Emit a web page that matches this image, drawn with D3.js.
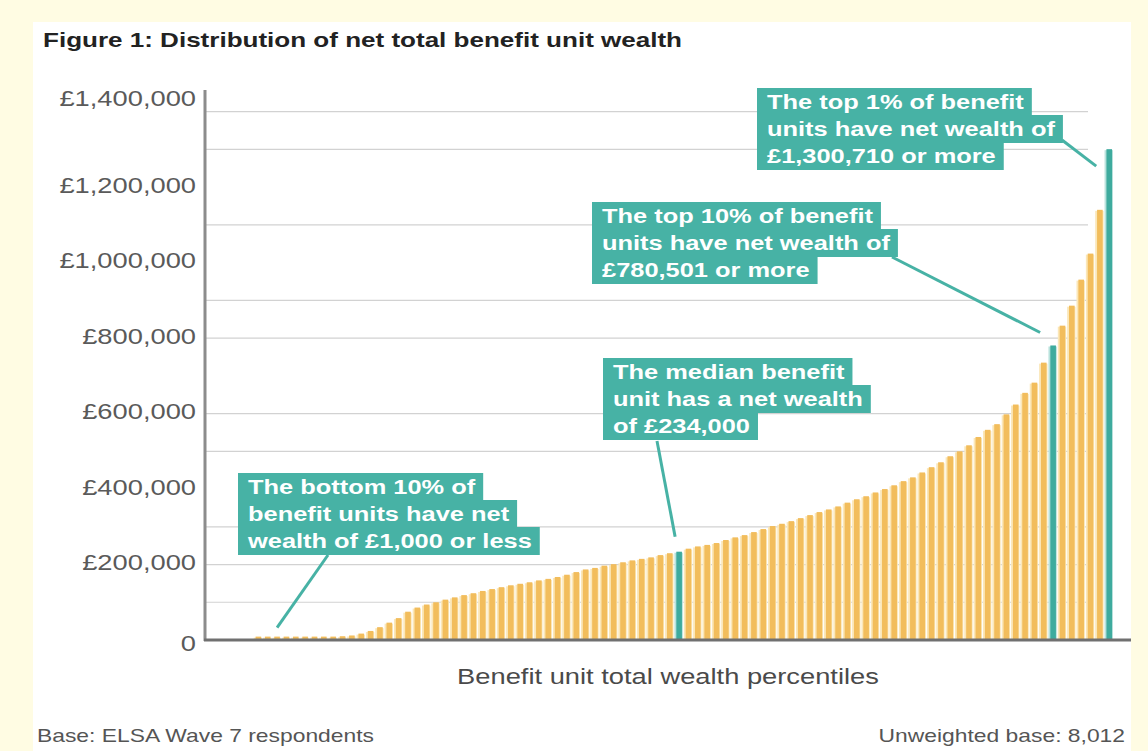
<!DOCTYPE html>
<html>
<head>
<meta charset="utf-8">
<script src="https://cdn.jsdelivr.net/npm/d3@7"></script>
<style>
  body { margin: 0; background: #fffce3; }
  svg { display: block; }
</style>
</head>
<body>
<div id="chart"></div>
<script>
var width = 1148,
    height = 751;

// the source picture is stretched sideways, text too
var SX = 1.27;

// percentile categories (the chart jumps from 95 to 99)
var percentiles = d3.range(1, 96).concat([99]);

// net wealth per percentile
var wealth = [
    0, 0, 0, 0, 9000, 9000, 9000, 9000, 9000, 9000,
    9000, 9000, 9000, 10000, 12000, 17000, 24000, 34000, 46000, 58000,
    75000, 86000, 94000, 100000, 107000, 113000, 119000, 124000, 130000, 135000,
    140000, 145000, 149000, 153000, 158000, 162000, 167000, 173000, 180000, 187000,
    191000, 197000, 201000, 206000, 211000, 215000, 219000, 225000, 230000, 234000,
    242000, 248000, 252000, 257000, 265000, 272000, 278000, 286000, 294000, 302000,
    308000, 315000, 323000, 331000, 339000, 346000, 354000, 364000, 373000, 381000,
    391000, 400000, 410000, 421000, 431000, 444000, 458000, 471000, 487000, 500000,
    516000, 538000, 557000, 572000, 598000, 624000, 655000, 682000, 735000, 780501,
    833000, 886000, 955000, 1024000, 1140000, 1300710
];

var highlighted = [50, 90, 99];

var yTicks = [0, 200000, 400000, 600000, 800000, 1000000, 1200000, 1400000];
var gridValues = [100000, 200000, 300000, 500000, 600000, 800000, 900000, 1100000, 1300000, 1400000];

var titleText = "Figure 1: Distribution of net total benefit unit wealth";
var xTitle = "Benefit unit total wealth percentiles";
var noteLeft = "Base: ELSA Wave 7 respondents";
var noteRight = "Unweighted base: 8,012";

var annotations = [
    { cat: 7, lines: ["The bottom 10% of", "benefit units have net", "wealth of £1,000 or less"],
      bx: 238, by: 473, sx: 328, sy: 555, dx: 0, dy: -9 },
    { cat: 50, lines: ["The median benefit", "unit has a net wealth", "of £234,000"],
      bx: 603, by: 358, sx: 657, sy: 441, dx: -4, dy: -15 },
    { cat: 90, lines: ["The top 10% of benefit", "units have net wealth of", "£780,501 or more"],
      bx: 592, by: 202, sx: 892, sy: 257, dx: -13, dy: -13 },
    { cat: 99, lines: ["The top 1% of benefit", "units have net wealth of", "£1,300,710 or more"],
      bx: 757, by: 88, sx: 1062, sy: 140, dx: -13, dy: 17 }
];

var data = percentiles.map(function (p, i) { return { p: p, v: wealth[i] }; });

var orange = "#f2bd5c",
    orangePale = "#fbe7b8",
    teal = "#47b2a5",
    tealDark = "#3eab9e",
    tealPale = "#b9e2dc";

var svg = d3.select("#chart").append("svg")
    .attr("width", width)
    .attr("height", height)
    .attr("font-family", "'Liberation Sans', Arial, sans-serif");

svg.append("rect")
    .attr("width", width).attr("height", height)
    .attr("fill", "#fffce3");

svg.append("rect")
    .attr("x", 33).attr("y", 22)
    .attr("width", 1098).attr("height", height - 22)
    .attr("fill", "#fff");

var x = d3.scaleBand()
    .domain(percentiles)
    .range([216.3, 1113.9])
    .paddingInner(0.4)
    .paddingOuter(0.2);

var y = d3.scaleLinear()
    .domain([0, 1400000])
    .range([640, 111.7]);

function stretched(sel, tx, ty) {
    return sel.attr("transform", "translate(" + tx + "," + ty + ") scale(" + SX + ",1)");
}

// title
svg.append("text")
    .attr("font-size", 20.5)
    .attr("font-weight", "bold")
    .attr("fill", "#222")
    .text(titleText)
    .call(stretched, 43, 47);

// grid lines
svg.append("g")
    .attr("stroke", "#d2d2d2")
    .attr("stroke-width", 1.2)
    .selectAll("line")
    .data(gridValues)
    .join("line")
    .attr("x1", 205).attr("x2", 1088)
    .attr("y1", d => y(d)).attr("y2", d => y(d));

// bars: pale halo over the whole step, solid core in the band
var bars = svg.append("g")
    .selectAll("g")
    .data(data)
    .join("g");

bars.append("rect")
    .attr("x", d => x(d.p) - x.step() * 0.2)
    .attr("width", x.step() * 0.9)
    .attr("y", d => y(d.v) + 1)
    .attr("height", d => Math.max(0, y(0) - y(d.v) - 1))
    .attr("fill", d => highlighted.includes(d.p) ? tealPale : orangePale);

bars.append("rect")
    .attr("x", d => x(d.p))
    .attr("width", x.bandwidth())
    .attr("y", d => y(d.v))
    .attr("height", d => y(0) - y(d.v))
    .attr("fill", d => highlighted.includes(d.p) ? tealDark : orange);

// axes lines
svg.append("line")
    .attr("x1", 205).attr("x2", 205)
    .attr("y1", 90).attr("y2", 641)
    .attr("stroke", "#8c8c8c")
    .attr("stroke-width", 3);

svg.append("line")
    .attr("x1", 204).attr("x2", 1131)
    .attr("y1", 640).attr("y2", 640)
    .attr("stroke", "#707070")
    .attr("stroke-width", 3);

// y tick labels
var fmt = d3.format(",");
svg.append("g")
    .attr("font-size", 21.5)
    .attr("fill", "#5a5a5a")
    .attr("text-anchor", "end")
    .selectAll("text")
    .data(yTicks)
    .join("text")
    .attr("dy", d => d === 1400000 ? "-0.2em" : "0.3em")
    .text(d => d === 0 ? "0" : "£" + fmt(d))
    .each(function (d) {
        d3.select(this).call(stretched, 196, y(d) + (d === 0 ? 5 : -1));
    });

// x axis title
svg.append("text")
    .attr("font-size", 21.5)
    .attr("fill", "#4a4a4a")
    .attr("text-anchor", "middle")
    .text(xTitle)
    .call(stretched, 668, 684);

// footer notes
svg.append("text")
    .attr("font-size", 18)
    .attr("fill", "#555")
    .text(noteLeft)
    .call(stretched, 37, 742);

svg.append("text")
    .attr("font-size", 18)
    .attr("fill", "#555")
    .attr("text-anchor", "end")
    .text(noteRight)
    .call(stretched, 1125, 742);

// annotations
var lineH = 27;
var ann = svg.append("g").selectAll("g")
    .data(annotations)
    .join("g");

ann.append("line")
    .attr("x1", d => d.sx).attr("y1", d => d.sy)
    .attr("x2", d => {
        var v = data.find(e => e.p === d.cat);
        return x(v.p) + x.bandwidth() / 2 + d.dx;
    })
    .attr("y2", d => {
        var v = data.find(e => e.p === d.cat);
        return y(v.v) + d.dy;
    })
    .attr("stroke", teal)
    .attr("stroke-width", 3);

ann.each(function (d) {
    var g = d3.select(this);
    d.lines.forEach(function (ln, i) {
        var rect = g.append("rect")
            .attr("x", d.bx)
            .attr("y", d.by + i * lineH)
            .attr("height", lineH + 1)
            .attr("fill", teal);
        var t = g.append("text")
            .attr("font-size", 20)
            .attr("font-weight", "bold")
            .attr("fill", "#fff")
            .text(ln)
            .call(stretched, d.bx + 10, d.by + i * lineH + 21);
        var len = t.node().getComputedTextLength() * SX;
        rect.attr("width", len + 18);
    });
});
</script>
</body>
</html>
